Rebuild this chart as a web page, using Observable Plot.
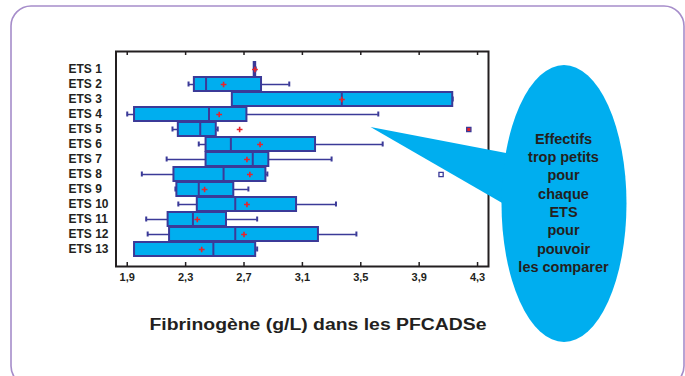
<!DOCTYPE html>
<html>
<head>
<meta charset="utf-8">
<script src="https://cdn.jsdelivr.net/npm/d3@7"></script>
<script src="https://cdn.jsdelivr.net/npm/@observablehq/plot@0.6"></script>
<style>
  html, body { margin: 0; padding: 0; background: #ffffff; }
  #wrap { position: relative; width: 685px; height: 376px; overflow: hidden; font-family: "Liberation Sans", Arial, sans-serif; }
  #wrap > svg { position: absolute; left: 0; top: 0; }
  #overlay { pointer-events: none; }
</style>
</head>
<body>
<div id="wrap"></div>
<script>
// ---- data ----
const names       = ["ETS 1","ETS 2","ETS 3","ETS 4","ETS 5","ETS 6","ETS 7","ETS 8","ETS 9","ETS 10","ETS 11","ETS 12","ETS 13"];
const whiskerLow  = [2.77, 2.32, 2.62, 1.90, 2.21, 2.39, 2.17, 2.00, 2.23, 2.25, 2.03, 2.04, 1.95];
const q1          = [2.77, 2.36, 2.62, 1.95, 2.25, 2.44, 2.44, 2.22, 2.24, 2.38, 2.18, 2.19, 1.95];
const median      = [2.775, 2.44, 3.37, 2.46, 2.40, 2.61, 2.76, 2.56, 2.39, 2.64, 2.35, 2.64, 2.49];
const q3          = [2.78, 2.82, 4.13, 2.72, 2.51, 3.19, 2.87, 2.85, 2.63, 3.06, 2.58, 3.21, 2.78];
const whiskerHigh = [2.78, 3.01, 4.13, 3.62, 2.52, 3.65, 3.30, 2.86, 2.73, 3.33, 2.79, 3.47, 2.79];
const means       = [2.775, 2.56, 3.37, 2.53, 2.67, 2.81, 2.72, 2.74, 2.43, 2.72, 2.38, 2.70, 2.41];
const outlierEts    = ["ETS 5", "ETS 8"];
const outlierValues = [4.24, 4.05];
const outlierFills  = ["#e8232a", "#ffffff"];
const xTicks = [1.9, 2.3, 2.7, 3.1, 3.5, 3.9, 4.3];
const xTitle = "Fibrinogène (g/L) dans les PFCADSe";
const bubbleLines = ["Effectifs", "trop petits", "pour", "chaque", "ETS", "pour", "pouvoir", "les comparer"];

// ---- tables built from the arrays ----
const rows = names.map((n, i) => ({
  ets: n, lo: whiskerLow[i], q1: q1[i], med: median[i], q3: q3[i], hi: whiskerHigh[i], mean: means[i]
}));
const outliers = outlierEts.map((e, i) => ({ets: e, value: outlierValues[i], fill: outlierFills[i]}));

const boxFill = "#00aeef";
const boxStroke = "#3b3a98";
const ink = "#231f20";
const meanRed = "#e8232a";

const frameH = 266 - 51;
const capInset = 4.5;

const chart = Plot.plot({
  width: 685,
  height: 376,
  marginLeft: 115.5,
  marginRight: 197,
  marginTop: 51,
  marginBottom: 110,
  style: {fontFamily: "'Liberation Sans', Arial, sans-serif", color: ink, background: "transparent"},
  x: {domain: [1.823, 4.375], label: null},
  y: {type: "band", domain: names, paddingInner: 0.1, paddingOuter: 0.47, label: null},
  marks: [
    // whiskers
    Plot.ruleY(rows, {y: "ets", x1: "lo", x2: "q1", stroke: boxStroke, strokeWidth: 1.5}),
    Plot.ruleY(rows, {y: "ets", x1: "q3", x2: "hi", stroke: boxStroke, strokeWidth: 1.5}),
    Plot.tickX(rows, {y: "ets", x: "lo", stroke: boxStroke, strokeWidth: 2, insetTop: capInset, insetBottom: capInset}),
    Plot.tickX(rows, {y: "ets", x: "hi", stroke: boxStroke, strokeWidth: 2, insetTop: capInset, insetBottom: capInset}),
    // boxes
    Plot.barX(rows, {y: "ets", x1: "q1", x2: "q3", fill: boxFill, stroke: boxStroke, strokeWidth: 2}),
    // medians
    Plot.tickX(rows, {y: "ets", x: "med", stroke: boxStroke, strokeWidth: 2}),
    // means
    Plot.dot(rows, {y: "ets", x: "mean", symbol: "plus", r: 2, stroke: meanRed, strokeWidth: 1.6}),
    // outliers
    Plot.dot(outliers, {y: "ets", x: "value", symbol: "square", r: 2.4, stroke: boxStroke, strokeWidth: 1.3, fill: "fill"}),
    // frame and inward ticks
    Plot.frame({stroke: ink, strokeWidth: 2}),
    Plot.tickX(xTicks, {x: d => d, stroke: ink, strokeWidth: 1.5, insetTop: frameH - 4}),
    Plot.tickX(xTicks, {x: d => d, stroke: ink, strokeWidth: 1.5, insetBottom: frameH - 4}),
    Plot.axisX({ticks: xTicks, tickFormat: d => d.toFixed(1).replace(".", ","), tickSize: 0, tickPadding: 7,
                fontSize: 11, fontWeight: "bold", fill: ink}),
    Plot.axisY({tickSize: 0, tickPadding: 0, textAnchor: "start", dx: -47.5,
                fontSize: 12, fontWeight: "bold", fill: ink})
  ]
});
document.getElementById("wrap").appendChild(chart);

// ---- decorations: panel, callout bubble, x title ----
const ns = "http://www.w3.org/2000/svg";
const ov = d3.select("#wrap").append("svg")
  .attr("id", "overlay").attr("width", 685).attr("height", 376)
  .attr("xmlns", ns);

ov.append("rect")
  .attr("x", 11).attr("y", 6).attr("width", 673).attr("height", 380)
  .attr("rx", 20).attr("ry", 20)
  .attr("fill", "none").attr("stroke", "#a68dca").attr("stroke-width", 1.6);

ov.append("polygon")
  .attr("points", "370.5,127 530,157.5 530,219")
  .attr("fill", boxFill);
ov.append("ellipse")
  .attr("cx", 564).attr("cy", 203.5).attr("rx", 62.5).attr("ry", 138.5)
  .attr("fill", boxFill);

ov.append("g")
  .attr("font-family", "'Liberation Sans', Arial, sans-serif")
  .attr("font-weight", "bold").attr("font-size", 14.5)
  .attr("fill", ink).attr("text-anchor", "middle")
  .selectAll("text").data(bubbleLines).join("text")
  .attr("x", 563.5)
  .attr("y", (d, i) => 138.5 + i * 18.33)
  .attr("dy", "0.36em")
  .text(d => d);

ov.append("text")
  .attr("x", 318).attr("y", 324).attr("dy", "0.36em")
  .attr("text-anchor", "middle")
  .attr("font-family", "'Liberation Sans', Arial, sans-serif")
  .attr("font-weight", "bold").attr("font-size", 16)
  .attr("textLength", 337).attr("lengthAdjust", "spacingAndGlyphs")
  .attr("fill", ink)
  .text(xTitle);
</script>
</body>
</html>
